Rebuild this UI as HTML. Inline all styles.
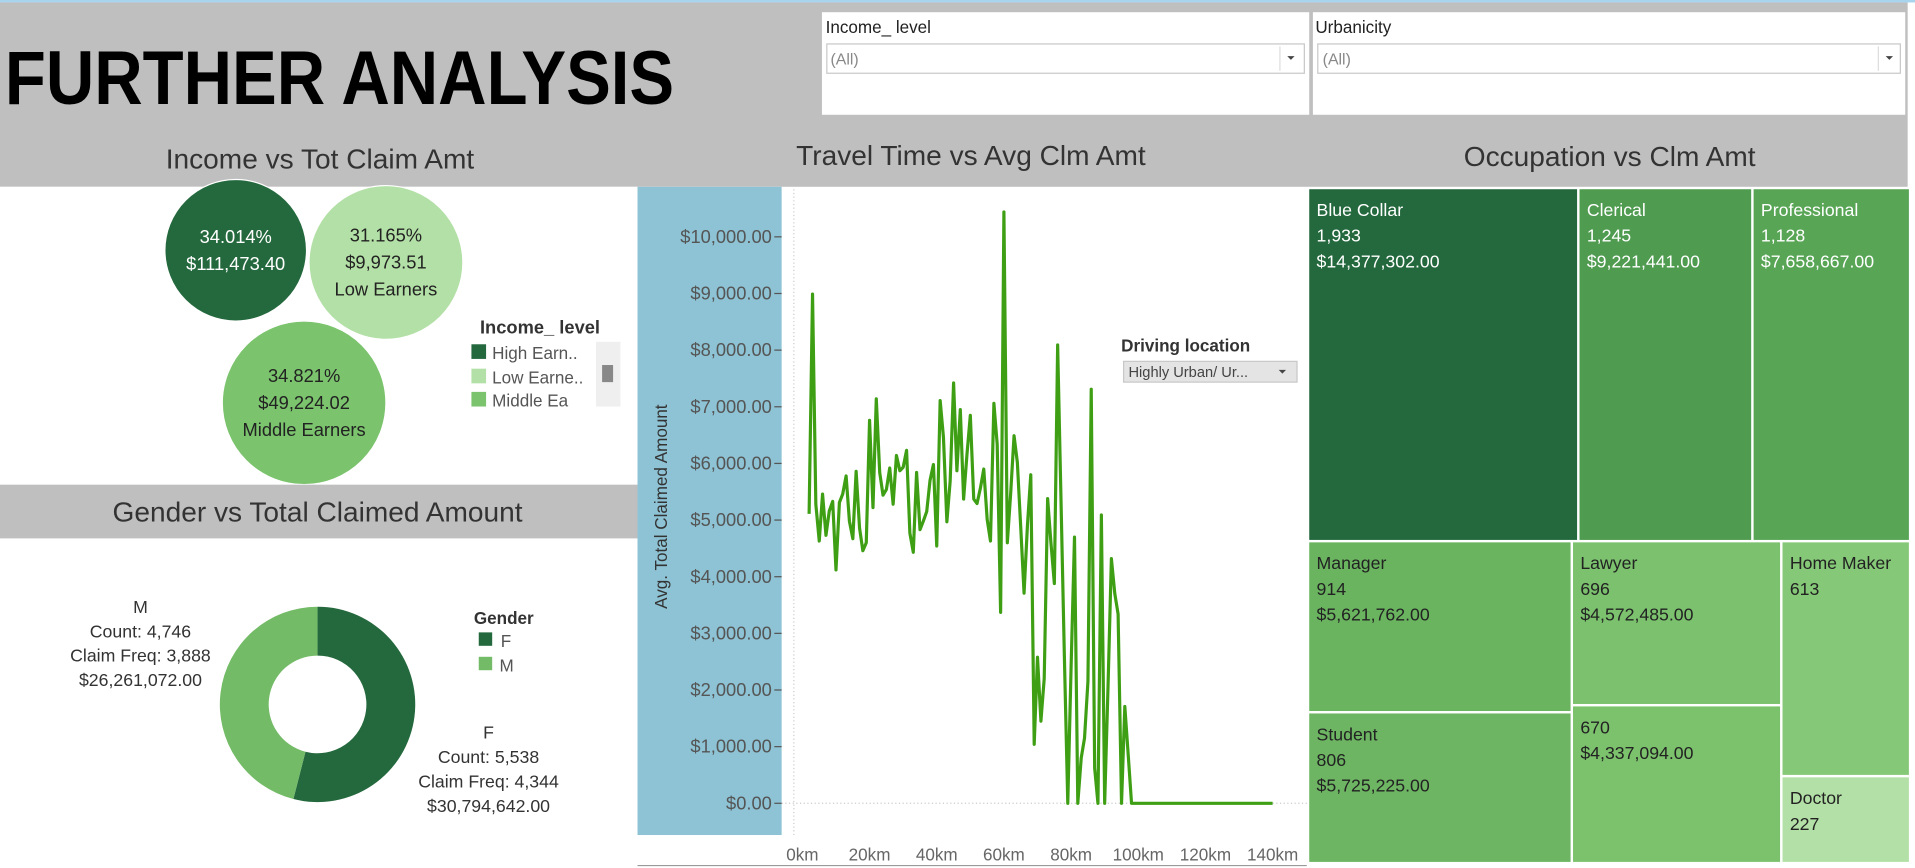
<!DOCTYPE html>
<html><head><meta charset="utf-8"><style>
html,body{margin:0;padding:0;background:#fff;overflow:hidden}
svg{display:block;font-family:"Liberation Sans",sans-serif}
</style></head><body>
<svg id="root" width="1915" height="868" viewBox="0 0 1568 711" preserveAspectRatio="none" xmlns="http://www.w3.org/2000/svg">
<rect x="0" y="0" width="1568" height="711" fill="#fff"/>
<rect x="0" y="0" width="1568" height="2" fill="#a9d4ee"/>
<rect x="0" y="2" width="1562" height="151" fill="#bfbfbf"/>
<text x="4" y="85" font-size="62" font-weight="bold" fill="#000" textLength="548" lengthAdjust="spacingAndGlyphs">FURTHER ANALYSIS</text>

<g>
<rect x="673" y="10" width="399" height="84" fill="#fff"/>
<text x="676" y="27" font-size="14" fill="#222">Income_ level</text>
<rect x="677" y="36" width="391" height="24" fill="#fff" stroke="#c8c8c8"/>
<text x="680" y="53" font-size="13" fill="#888">(All)</text>
<line x1="1048" y1="38" x2="1048" y2="58" stroke="#ddd"/>
<path d="M1054 46 l6 0 l-3 3 z" fill="#444"/>
</g>
<g>
<rect x="1075" y="10" width="485" height="84" fill="#fff"/>
<text x="1077" y="27" font-size="14" fill="#222">Urbanicity</text>
<rect x="1079" y="36" width="477" height="24" fill="#fff" stroke="#c8c8c8"/>
<text x="1083" y="53" font-size="13" fill="#888">(All)</text>
<line x1="1538" y1="38" x2="1538" y2="58" stroke="#ddd"/>
<path d="M1544 46 l6 0 l-3 3 z" fill="#444"/>
</g>

<text x="262" y="138" font-size="23" fill="#333" text-anchor="middle">Income vs Tot Claim Amt</text>
<text x="795" y="135" font-size="23" fill="#333" text-anchor="middle">Travel Time vs Avg Clm Amt</text>
<text x="1318" y="136" font-size="23" fill="#333" text-anchor="middle">Occupation vs Clm Amt</text>

<rect x="0" y="153" width="522" height="244" fill="#fff"/>
<g id="bubbles"></g>
<g>
<text x="393" y="273" font-size="15" font-weight="bold" fill="#333">Income_ level</text>
<rect x="386" y="282" width="12" height="12" fill="#24693d"/><text x="403" y="294" font-size="14" fill="#555">High Earn..</text>
<rect x="386" y="302" width="12" height="12" fill="#b3e0a6"/><text x="403" y="314" font-size="14" fill="#555">Low Earne..</text>
<rect x="386" y="321" width="12" height="12" fill="#7bc36d"/>
<svg x="400" y="318" width="80" height="15"><text x="3" y="15" font-size="14" fill="#555">Middle Ea</text></svg>
<rect x="488" y="280" width="20" height="53" fill="#efefef"/>
<rect x="493" y="299" width="9" height="14" fill="#888"/>
</g>

<rect x="0" y="397" width="522" height="44" fill="#bfbfbf"/>
<text x="260" y="427" font-size="23" fill="#333" text-anchor="middle">Gender vs Total Claimed Amount</text>
<g id="donut"></g>
<g>
<text x="388" y="511" font-size="14" font-weight="bold" fill="#333">Gender</text>
<rect x="392" y="518" width="11" height="11" fill="#24693d"/><text x="410" y="530" font-size="14" fill="#555">F</text>
<rect x="392" y="538" width="11" height="11" fill="#74bb67"/><text x="409" y="550" font-size="14" fill="#555">M</text>
</g>

<rect x="522" y="153" width="118" height="531" fill="#8dc3d4"/>
<line x1="522" y1="709" x2="1070" y2="709" stroke="#999" stroke-width="1"/>
<text transform="translate(546,415) rotate(-90)" font-size="14" fill="#333" text-anchor="middle">Avg. Total Claimed Amount</text>
<g id="linechart"></g>
<g>
<text x="918" y="288" font-size="14" font-weight="bold" fill="#333">Driving location</text>
<rect x="920" y="296" width="142" height="17" fill="#e4e4e4" stroke="#c8c8c8"/>
<text x="924" y="309" font-size="12" fill="#444">Highly Urban/ Ur...</text>
<path d="M1047 303 l6 0 l-3 3 z" fill="#444"/>
</g>

<g id="treemap"></g>
</svg>
<script>
const NS="http://www.w3.org/2000/svg";
function mk(parent,tag,attrs,text){const e=document.createElementNS(NS,tag);for(const k in attrs)e.setAttribute(k,attrs[k]);if(text!==undefined)e.textContent=text;parent.appendChild(e);return e;}

// ---------- Bubble chart ----------
const incomeCats=["High Earners","Low Earners","Middle Earners"];
const incomePct=[34.014,31.165,34.821];
const incomeAmt=["$111,473.40","$9,973.51","$49,224.02"];
const bubbleColors=["#24693d","#b3e0a6","#7bc36d"];
const bubbleCenters=[[193,205],[316,215],[249,330]];
const bubbleRadius=[58,63,67];
const bg=document.getElementById('bubbles');
incomeCats.forEach((c,i)=>{
  const r=bubbleRadius[i];
  const [cx,cy]=bubbleCenters[i];
  const circ=mk(bg,'circle',{cx:cx,cy:cy,r:r,fill:bubbleColors[i],stroke:'#fff','stroke-width':1});
  
  
  const tc=i===0?'#fff':'#222';
  const lines=[incomePct[i].toFixed(3)+'%',incomeAmt[i]];
  if(i>0)lines.push(c);
  const y0=cy-(lines.length-1)*11+5;
  lines.forEach((l,j)=>{const t=mk(bg,'text',{x:cx,y:y0+j*22,'font-size':15,fill:tc,'text-anchor':'middle'},l);
    
    });
});

// ---------- Donut chart ----------
const genders=["F","M"];
const genderCount=[5538,4746];
const genderFreq=[4344,3888];
const genderAmt=[30794642,26261072];
const genderColors=["#24693d","#74bb67"];
const dg=document.getElementById('donut');
const dcx=260,dcy=577,R=80,r0=40;
const tot=genderAmt.reduce((a,b)=>a+b,0);
let ang=0;
genders.forEach((g,i)=>{
  const a1=ang,a2=ang+genderAmt[i]/tot*2*Math.PI;ang=a2;
  const p=(a,rr)=>[dcx+rr*Math.sin(a),dcy-rr*Math.cos(a)];
  const large=(a2-a1)>Math.PI?1:0;
  const [x1,y1]=p(a1,R),[x2,y2]=p(a2,R),[x3,y3]=p(a2,r0),[x4,y4]=p(a1,r0);
  const s=mk(dg,'path',{d:`M${x1} ${y1} A${R} ${R} 0 ${large} 1 ${x2} ${y2} L${x3} ${y3} A${r0} ${r0} 0 ${large} 0 ${x4} ${y4} Z`,fill:genderColors[i]});
  
  
});
const fmt=n=>n.toLocaleString('en-US');
const labelPos={F:[400,605],M:[115,502]};
genders.forEach((g,i)=>{
  const [lx,ly]=labelPos[g];
  const lines=[g,'Count: '+fmt(genderCount[i]),'Claim Freq: '+fmt(genderFreq[i]),'$'+fmt(genderAmt[i])+'.00'];
  lines.forEach((l,j)=>{const t=mk(dg,'text',{x:lx,y:ly+j*20,'font-size':14.5,fill:'#333','text-anchor':'middle'},l);
    
    });
});

// ---------- Line chart ----------
const yTicks=[0,1000,2000,3000,4000,5000,6000,7000,8000,9000,10000];
const xTicks=[0,20,40,60,80,100,120,140];
const startKm=2;
const avgClaim=[5110,8990,5280,4630,5460,4730,5160,5330,4120,5310,5460,5780,4980,4670,5860,4860,4460,4600,6760,5220,
7140,5840,5440,5540,5920,5280,6140,5870,5930,6230,4770,4430,5840,4830,4980,5150,5700,5980,4540,7110,
6460,4970,5690,7420,5870,6950,5370,6170,6850,5370,5290,5570,5900,5010,4630,7060,6340,3370,10440,4600,
5460,6490,6020,4860,3710,4920,5800,1040,2580,1450,2200,5380,4600,3880,8090,5300,2600,0,2400,4700,
0,800,1150,2150,7310,620,0,5090,0,2100,4320,3700,3340,0,1710,850,0,0,0,0,
0,0,0,0,0,0,0,0,0,0,0,0,0,0,0,0,0,0,0,0,
0,0,0,0,0,0,0,0,0,0,0,0,0,0,0,0,0,0,0];
const xS=km=>657+2.75*km;
const yS=v=>658-v*0.0464;
const lg=document.getElementById('linechart');
mk(lg,'line',{x1:650,y1:155,x2:650,y2:684,stroke:'#ccc','stroke-dasharray':'1,2'});
mk(lg,'line',{x1:640,y1:yS(0),x2:1070,y2:yS(0),stroke:'#ccc','stroke-dasharray':'1,2'});
yTicks.forEach(v=>{
  const t=mk(lg,'text',{x:632,y:yS(v)+5,'font-size':15,fill:'#555','text-anchor':'end'},'$'+fmt(v)+'.00');
  
  
  mk(lg,'line',{x1:634,y1:yS(v),x2:640,y2:yS(v),stroke:'#555'});
});
xTicks.forEach(k=>{
  const t=mk(lg,'text',{x:xS(k),y:705,'font-size':14,fill:'#666','text-anchor':'middle'},k+'km');
  
  
});
const pts=avgClaim.map((v,i)=>xS(startKm+i).toFixed(1)+','+yS(v).toFixed(1)).join(' ');
const pl=mk(lg,'polyline',{points:pts,fill:'none',stroke:'#3f9f14','stroke-width':2.6,'stroke-linejoin':'round'});



// ---------- Treemap ----------
const occNames=["Blue Collar","Clerical","Professional","Manager","Student","Lawyer","","Home Maker","Doctor"];
const occCount=[1933,1245,1128,914,806,696,670,613,227];
const occAmt=["$14,377,302.00","$9,221,441.00","$7,658,667.00","$5,621,762.00","$5,725,225.00","$4,572,485.00","$4,337,094.00","",""];
const occColors=["#24693d","#4f9b50","#58a556","#6ab460","#6db563","#7bc16e","#7cc26d","#85c877","#b3e0a6"];
const occText=["#fff","#fff","#fff","#222","#222","#222","#222","#222","#222"];
const tg=document.getElementById('treemap');
const TX=1072,TY=155,TW=493,TH=553,G=2;
const total=occCount.reduce((a,b)=>a+b,0);
const topRow=[0,1,2],cols=[[3,4],[5,6],[7,8]];
const sum=ids=>ids.reduce((a,i)=>a+occCount[i],0);
const rects=[];
const topH=TH*sum(topRow)/total;
let cx=TX;
topRow.forEach(i=>{const w=TW*occCount[i]/sum(topRow);rects[i]=[cx,TY,w,topH];cx+=w;});
cx=TX;const botH=TH-topH;const botSum=total-sum(topRow);
cols.forEach(col=>{const w=TW*sum(col)/botSum;let cy=TY+topH;
  col.forEach(i=>{const h=botH*occCount[i]/sum(col);rects[i]=[cx,cy,w,h];cy+=h;});cx+=w;});
occNames.forEach((n,i)=>{
  const [x,y,w,h]=rects[i];
  const r=mk(tg,'rect',{x:x,y:y,width:w-G,height:h-G,fill:occColors[i]});
  
  
  const lines=[n,fmt(occCount[i]),occAmt[i]].filter(s=>s!=='');
  lines.forEach((l,j)=>{const t=mk(tg,'text',{x:x+6,y:y+22+j*21,'font-size':14.5,fill:occText[i]},l);
    
    });
});
</script>
</body></html>
